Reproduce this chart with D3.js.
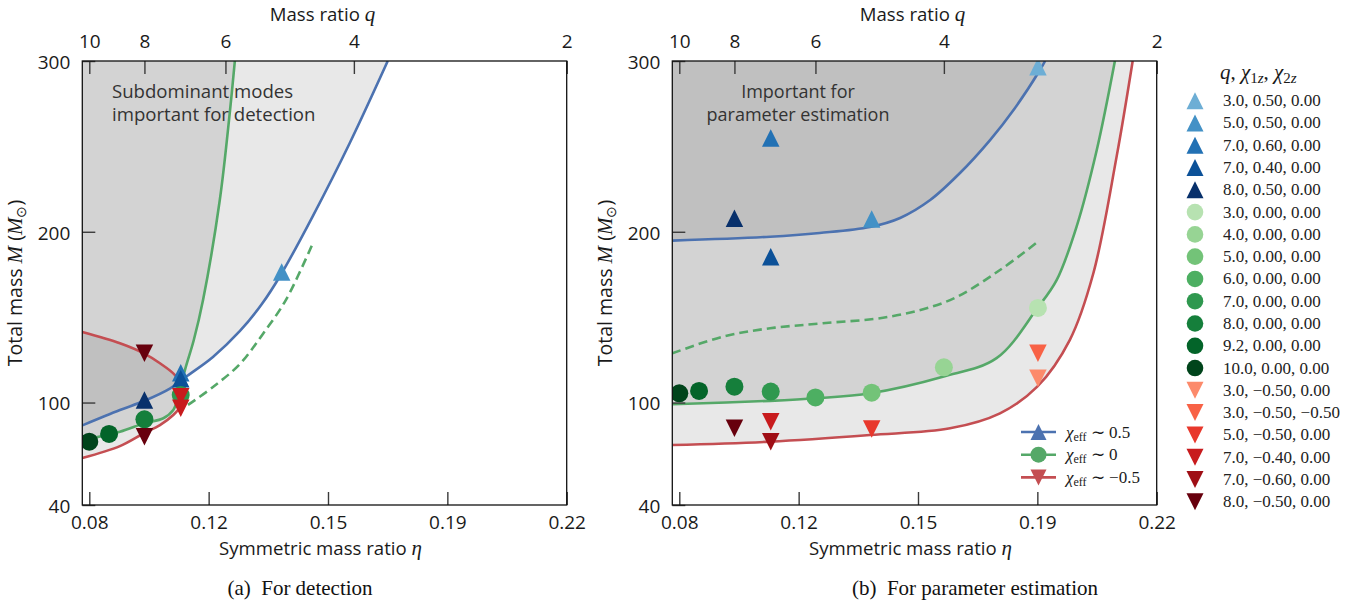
<!DOCTYPE html>
<html><head><meta charset="utf-8">
<script src="https://cdn.jsdelivr.net/npm/d3@7"></script>
<style>body{margin:0;background:#fff} svg{display:block}</style>
</head><body><svg id="c" width="1359" height="601"></svg>
<script>
// ---------------- DATA ----------------
const qTicks = [10, 8, 6, 4, 2];
const etaTicks = [0.082645, 0.117539, 0.152433, 0.187328, 0.222222];
const etaTickLabels = ["0.08", "0.12", "0.15", "0.19", "0.22"];
const massTicks = [40, 100, 200, 300];

// legend series (q, chi1z, chi2z)
const posSpinQ = [3.0, 5.0, 7.0, 7.0, 8.0];
const posSpinChi1 = [0.50, 0.50, 0.60, 0.40, 0.50];
const posSpinChi2 = [0, 0, 0, 0, 0];
const noSpinQ = [3.0, 4.0, 5.0, 6.0, 7.0, 8.0, 9.2, 10.0];
const negSpinQ = [3.0, 3.0, 5.0, 7.0, 7.0, 8.0];
const negSpinChi1 = [-0.50, -0.50, -0.50, -0.40, -0.60, -0.50];
const negSpinChi2 = [0, -0.50, 0, 0, 0, 0];

// (a) detection panel markers: series index + total mass
const detPosIdx = [1, 2, 3, 4];
const detPosM = [176.4, 117.5, 114.0, 101.5];
const detNoIdx = [4, 5, 6, 7];
const detNoM = [104.4, 90.2, 81.6, 77.1];
const detNegIdx = [3, 3, 5, 5];
const detNegM = [103.4, 96.6, 128.8, 80.0];

// (b) parameter-estimation panel markers
const pePosIdx = [0, 1, 2, 3, 4];
const pePosM = [296.7, 207.5, 254.9, 185.4, 207.9];
const peNoIdx = [0, 1, 2, 3, 4, 5, 6, 7];
const peNoM = [155.4, 120.6, 105.8, 103.0, 106.4, 109.3, 106.8, 105.4];
const peNegIdx = [0, 1, 2, 3, 4, 5];
const peNegM = [114.2, 128.8, 84.5, 88.8, 77.1, 84.9];

// (a) boundary curves (eta, M)
const detBlueEta = [0.0806, 0.0916, 0.0986, 0.1062, 0.1112, 0.1188, 0.1267, 0.1331, 0.1386, 0.1480, 0.1588, 0.1699];
const detBlueM   = [86.6, 95.6, 100.9, 108.2, 115.5, 126.7, 141.9, 157.7, 174.7, 209.2, 252.0, 300];
const detGreenEta = [0.0806, 0.0916, 0.0986, 0.1043, 0.1072, 0.1087, 0.1106, 0.1132, 0.1159, 0.1208, 0.1238, 0.1252];
const detGreenM   = [78.0, 82.9, 87.8, 90.8, 95.6, 103.4, 119.0, 136.6, 160.0, 218.6, 271.3, 300];
const detRedEta = [0.0806, 0.0916, 0.0986, 0.1033, 0.1077, 0.1110, 0.1097, 0.1072, 0.1033, 0.0986, 0.0916, 0.0806];
const detRedM   = [141.3, 134.7, 128.8, 123.0, 116.1, 106.0, 98.6, 92.7, 86.8, 82.0, 74.5, 67.5];
const detDashEta = [0.1115, 0.1188, 0.1267, 0.1334, 0.1401, 0.1480];
const detDashM   = [98.6, 109.1, 122.6, 140.2, 160.0, 193.3];

// (b) boundary curves (eta, M)
const peBlueEta = [0.0806, 0.1092, 0.1237, 0.1384, 0.1472, 0.1560, 0.1647, 0.1735, 0.1808, 0.1881, 0.1896];
const peBlueM   = [194.8, 197.1, 199.3, 202.8, 208.1, 218.6, 234.4, 253.7, 272.5, 294.7, 300];
const peGreenEta = [0.0806, 0.1092, 0.1228, 0.1384, 0.1597, 0.1754, 0.1873, 0.1930, 0.1988, 0.2047, 0.2100];
const peGreenM   = [99.0, 101.0, 102.5, 105.4, 115.1, 126.0, 155.2, 171.8, 203.0, 247.9, 300];
const peRedEta = [0.0806, 0.1092, 0.1384, 0.1618, 0.1764, 0.1873, 0.1968, 0.2037, 0.2105, 0.2152];
const peRedM   = [75.1, 77.1, 81.0, 84.9, 93.7, 109.3, 136.6, 175.7, 244.0, 300];
const peDashEta = [0.0806, 0.0954, 0.1092, 0.1246, 0.1442, 0.1618, 0.1764, 0.1869];
const peDashM   = [128.8, 138.6, 143.5, 146.4, 150.3, 160.0, 177.6, 193.3];

const chiEffLabels = ["0.5", "0", "\u22120.5"];

// ---------------- DRAWING ----------------
const SANS = "'Open Sans', sans-serif";
const SERIF = "'Liberation Serif', serif";
const C_BLUE = "#4C72B0", C_GREEN = "#55A868", C_RED = "#C44E52";
const etaOf = q => q / ((1 + q) * (1 + q));
const blueCol = i => d3.interpolateBlues(0.5 + 0.5 * i / (posSpinQ.length - 1));
const greenCol = i => d3.interpolateGreens(0.3 + 0.7 * i / (noSpinQ.length - 1));
const redCol = i => d3.interpolateReds(0.4 + 0.6 * i / (negSpinQ.length - 1));

const svg = d3.select("#c");
const yS = d3.scaleLinear().domain([40, 300]).range([505, 61]);
const ETA_MIN = 0.0806, ETA_MAX = 0.222222;

function triPath(s, down) {
  const h = s / 2;
  return down ? `M0,${h}L${h},${-h}L${-h},${-h}Z` : `M0,${-h}L${h},${h}L${-h},${h}Z`;
}
function pts(a, b) { return a.map((e, i) => [e, b[i]]); }

function panel(x0, x1, id, curves, markers, annot, caption, capX) {
  const x = d3.scaleLinear().domain([ETA_MIN, ETA_MAX]).range([x0, x1]);
  const g = svg.append("g");
  g.append("clipPath").attr("id", id).append("rect")
    .attr("x", x0).attr("y", yS(300)).attr("width", x1 - x0).attr("height", yS(40) - yS(300));
  const plot = g.append("g").attr("clip-path", `url(#${id})`);
  const line = d3.line().x(d => x(d[0])).y(d => yS(d[1])).curve(d3.curveCatmullRom.alpha(0.5));

  curves.fills.forEach(f => {
    let p = line(f.p);
    if (!f.closed) p += `L${x(ETA_MIN) - 5},${yS(300) - 5}L${x(ETA_MIN) - 5},${yS(f.p[0][1])}`;
    p += "Z";
    plot.append("path").attr("d", p).attr("fill", "#000").attr("fill-opacity", 0.09).attr("stroke", "none");
  });
  curves.lines.forEach(l => {
    plot.append("path").attr("d", line(l.p)).attr("fill", "none").attr("stroke", l.c)
      .attr("stroke-width", 2.6).attr("stroke-dasharray", l.dash ? "9,5" : null);
  });
  markers.forEach(m => {
    const px = x(etaOf(m.q)), py = yS(m.M);
    if (m.shape === "o") plot.append("circle").attr("cx", px).attr("cy", py).attr("r", 9).attr("fill", m.c);
    else plot.append("path").attr("d", triPath(17.5, m.shape === "v")).attr("transform", `translate(${px},${py})`).attr("fill", m.c);
  });

  const tickStyle = sel => {
    sel.select(".domain").remove();
    sel.selectAll(".tick line").attr("stroke", "#3a3a3a").attr("stroke-width", 1.4);
    sel.selectAll(".tick text").attr("fill", "#1a1a1a").style("font-family", SANS).style("font-size", "19px");
  };
  g.append("g").attr("transform", `translate(0,${yS(40)})`)
    .call(d3.axisBottom(x).tickValues(etaTicks).tickFormat((d, i) => etaTickLabels[i]).tickSizeInner(-13).tickSizeOuter(0).tickPadding(11))
    .call(tickStyle);
  g.append("g").attr("transform", `translate(0,${yS(300)})`)
    .call(d3.axisTop(x).tickValues(qTicks.map(etaOf)).tickFormat((d, i) => qTicks[i]).tickSizeInner(-13).tickSizeOuter(0).tickPadding(13))
    .call(tickStyle);
  g.append("g").attr("transform", `translate(${x0},0)`)
    .call(d3.axisLeft(yS).tickValues(massTicks).tickSizeInner(-13).tickSizeOuter(0).tickPadding(12))
    .call(tickStyle)
    .call(s => s.selectAll(".tick text").attr("dy", "0.38em"));

  g.append("rect").attr("x", x0).attr("y", yS(300)).attr("width", x1 - x0).attr("height", yS(40) - yS(300))
    .attr("fill", "none").attr("stroke", "#111").attr("stroke-width", 1.3);

  const cx = (x0 + x1) / 2;
  const xl = g.append("text").attr("x", cx - 4).attr("y", 555).attr("text-anchor", "middle")
    .attr("fill", "#1a1a1a").style("font-family", SANS).style("font-size", "18.6px");
  xl.append("tspan").text("Symmetric mass ratio ");
  xl.append("tspan").text("\u03B7").style("font-family", SERIF).style("font-style", "italic").style("font-size", "21px");
  const tl = g.append("text").attr("x", cx - 2).attr("y", 21).attr("text-anchor", "middle")
    .attr("fill", "#1a1a1a").style("font-family", SANS).style("font-size", "18.6px");
  tl.append("tspan").text("Mass ratio ");
  tl.append("tspan").text("q").style("font-family", SERIF).style("font-style", "italic").style("font-size", "21px");
  const yl = g.append("text").attr("transform", `translate(${x0 - 60},${(yS(40) + yS(300)) / 2}) rotate(-90)`)
    .attr("text-anchor", "middle").attr("fill", "#1a1a1a").style("font-family", SANS).style("font-size", "19.5px");
  yl.append("tspan").text("Total mass ");
  yl.append("tspan").text("M").style("font-family", SERIF).style("font-style", "italic").style("font-size", "21px");
  yl.append("tspan").text(" (");
  yl.append("tspan").text("M").style("font-family", SERIF).style("font-style", "italic").style("font-size", "21px");
  yl.append("tspan").text("\u2299").attr("dy", 4).style("font-family", SERIF).style("font-size", "14px");
  yl.append("tspan").text(")").attr("dy", -4);

  const an = g.append("text").attr("fill", "#333").style("font-family", SANS).style("font-size", annot.size)
    .attr("text-anchor", annot.anchor);
  annot.lines.forEach((t, i) => an.append("tspan").attr("x", annot.x).attr("y", 98 + 23 * i).text(t));

  svg.append("text").attr("x", capX).attr("y", 595).attr("text-anchor", "middle").attr("fill", "#111")
    .style("font-family", SERIF).style("font-size", "21px").text(caption);
  return { g, x };
}

function buildMarkers(posIdx, posM, noIdx, noM, negIdx, negM) {
  const out = [];
  posIdx.forEach((k, i) => out.push({ q: posSpinQ[k], M: posM[i], shape: "^", c: blueCol(k) }));
  noIdx.forEach((k, i) => out.push({ q: noSpinQ[k], M: noM[i], shape: "o", c: greenCol(k) }));
  negIdx.forEach((k, i) => out.push({ q: negSpinQ[k], M: negM[i], shape: "v", c: redCol(k) }));
  return out;
}

panel(82.3, 566.7, "clipA",
  {
    fills: [
      { p: pts(detBlueEta, detBlueM) },
      { p: pts(detGreenEta, detGreenM) },
      { p: pts(detRedEta, detRedM), closed: true }
    ],
    lines: [
      { p: pts(detDashEta, detDashM), c: C_GREEN, dash: true },
      { p: pts(detBlueEta, detBlueM), c: C_BLUE },
      { p: pts(detGreenEta, detGreenM), c: C_GREEN },
      { p: pts(detRedEta, detRedM), c: C_RED }
    ]
  },
  buildMarkers(detPosIdx, detPosM, detNoIdx, detNoM, detNegIdx, detNegM),
  { x: 112, anchor: "start", size: "18.6px", lines: ["Subdominant modes", "important for detection"] },
  "(a)\u00a0\u00a0For detection", 300);

panel(672.3, 1156.7, "clipB",
  {
    fills: [
      { p: pts(peBlueEta, peBlueM) },
      { p: pts(peGreenEta, peGreenM) },
      { p: pts(peRedEta, peRedM) }
    ],
    lines: [
      { p: pts(peDashEta, peDashM), c: C_GREEN, dash: true },
      { p: pts(peBlueEta, peBlueM), c: C_BLUE },
      { p: pts(peGreenEta, peGreenM), c: C_GREEN },
      { p: pts(peRedEta, peRedM), c: C_RED }
    ]
  },
  buildMarkers(pePosIdx, pePosM, peNoIdx, peNoM, peNegIdx, peNegM),
  { x: 798, anchor: "middle", size: "18px", lines: ["Important for", "parameter estimation"] },
  "(b)\u00a0\u00a0For parameter estimation", 975);

// chi_eff legend inside panel (b)
const lg = svg.append("g");
const lgCols = [C_BLUE, C_GREEN, C_RED], lgShapes = ["^", "o", "v"];
chiEffLabels.forEach((lab, i) => {
  const y = 432 + 22.7 * i;
  lg.append("line").attr("x1", 1021).attr("x2", 1056).attr("y1", y).attr("y2", y).attr("stroke", lgCols[i]).attr("stroke-width", 2.6);
  if (lgShapes[i] === "o") lg.append("circle").attr("cx", 1038.5).attr("cy", y).attr("r", 8).attr("fill", lgCols[i]);
  else lg.append("path").attr("d", triPath(16, lgShapes[i] === "v")).attr("transform", `translate(1038.5,${y})`).attr("fill", lgCols[i]);
  const t = lg.append("text").attr("x", 1066).attr("y", y + 5.5).attr("fill", "#1a1a1a").style("font-family", SERIF).style("font-size", "17px");
  t.append("tspan").text("\u03C7").style("font-style", "italic");
  t.append("tspan").text("eff").attr("dy", 3).style("font-size", "12px");
  t.append("tspan").text(" \u223C " + lab).attr("dy", -3);
});

// outer legend
const fmt = v => (v < 0 ? "\u2212" : "") + Math.abs(v).toFixed(2);
const entries = [];
posSpinQ.forEach((q, i) => entries.push({ s: "^", c: blueCol(i), t: `${q.toFixed(1)}, ${fmt(posSpinChi1[i])}, ${fmt(posSpinChi2[i])}` }));
noSpinQ.forEach((q, i) => entries.push({ s: "o", c: greenCol(i), t: `${q.toFixed(1)}, ${fmt(0)}, ${fmt(0)}` }));
negSpinQ.forEach((q, i) => entries.push({ s: "v", c: redCol(i), t: `${q.toFixed(1)}, ${fmt(negSpinChi1[i])}, ${fmt(negSpinChi2[i])}` }));
const ol = svg.append("g");
const title = ol.append("text").attr("x", 1220).attr("y", 79).attr("fill", "#1a1a1a").style("font-family", SERIF).style("font-size", "21px");
title.append("tspan").text("q").style("font-style", "italic");
title.append("tspan").text(", ");
title.append("tspan").text("\u03C7").style("font-style", "italic");
title.append("tspan").text("1").attr("dy", 4).style("font-size", "15px");
title.append("tspan").text("z").style("font-size", "15px").style("font-style", "italic");
title.append("tspan").text(", ").attr("dy", -4);
title.append("tspan").text("\u03C7").style("font-style", "italic");
title.append("tspan").text("2").attr("dy", 4).style("font-size", "15px");
title.append("tspan").text("z").style("font-size", "15px").style("font-style", "italic");
entries.forEach((e, i) => {
  const y = 100.7 + 22.28 * i;
  if (e.s === "o") ol.append("circle").attr("cx", 1195).attr("cy", y).attr("r", 8.3).attr("fill", e.c);
  else ol.append("path").attr("d", triPath(17, e.s === "v")).attr("transform", `translate(1195,${y})`).attr("fill", e.c);
  ol.append("text").attr("x", 1223).attr("y", y + 5.5).attr("fill", "#222").style("font-family", SERIF).style("font-size", "17px").text(e.t);
});
</script></body></html>
